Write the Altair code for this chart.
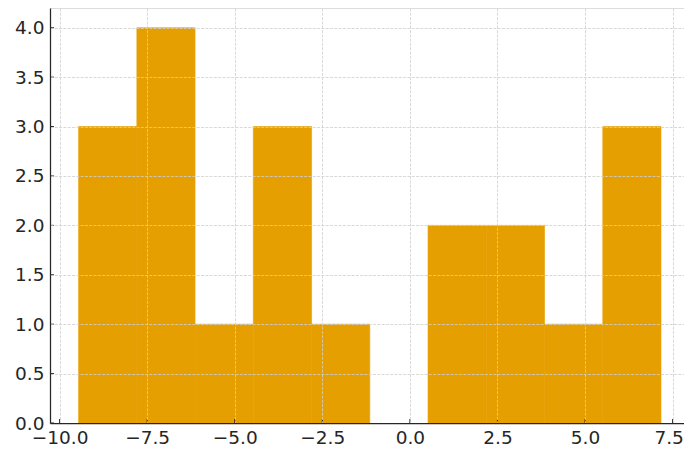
import altair as alt
import pandas as pd

# Histogram
bin_edges = [-9.458, -7.795, -6.133, -4.470, -2.807, -1.145, 0.518, 2.181, 3.843, 5.506, 7.168]
counts = [3, 4, 1, 3, 1, 0, 2, 2, 1, 3]
x_ticks = [-10.0, -7.5, -5.0, -2.5, 0.0, 2.5, 5.0, 7.5]
y_ticks = [0.0, 0.5, 1.0, 1.5, 2.0, 2.5, 3.0, 3.5, 4.0]

X_DOMAIN = [-10.274, 7.825]
Y_DOMAIN = [0, 4.2]
W, H = 634, 415

bars = pd.DataFrame({
    "start": bin_edges[:-1],
    "end": bin_edges[1:],
    "count": counts,
    "base": [0] * len(counts),
})

xs = alt.Scale(domain=X_DOMAIN, nice=False, zero=False)
ys = alt.Scale(domain=Y_DOMAIN, nice=False)

axis_common = dict(
    grid=True,
    gridColor="#cfcfcf",
    gridDash=[3, 1.3],
    gridWidth=0.8,
    domainColor="#262626",
    domainWidth=1.25,
    ticks=False,
    labelFont="DejaVu Sans",
    labelFontSize=18.5,
    labelColor="#262626",
    title=None,
    zindex=1,
    format=".1f",
)

bar_layer = alt.Chart(bars).mark_rect(
    color="#E69F00", stroke="#E69F00", strokeWidth=0.6
).encode(
    x=alt.X(
        "start:Q",
        scale=xs,
        axis=alt.Axis(
            values=x_ticks,
            labelPadding=5,
            labelOffset={"condition": {"test": "datum.value == 7.5", "value": -4}, "value": 0},
            **axis_common,
        ),
    ),
    x2="end:Q",
    y=alt.Y("count:Q", scale=ys, axis=alt.Axis(values=y_ticks, labelPadding=6, **axis_common)),
    y2="base:Q",
    strokeOpacity=alt.condition("datum.count > 0", alt.value(1), alt.value(0)),
)

xt = alt.Chart(pd.DataFrame({"v": x_ticks})).mark_rule(color="#262626", strokeWidth=1).encode(
    x=alt.X("v:Q", scale=xs),
    y=alt.value(H),
    y2=alt.value(H - 4),
)

yt = alt.Chart(pd.DataFrame({"v": y_ticks})).mark_rule(color="#262626", strokeWidth=1).encode(
    y=alt.Y("v:Q", scale=ys),
    x=alt.value(0),
    x2=alt.value(4),
)

chart = alt.layer(bar_layer, xt, yt).properties(
    width=W,
    height=H,
    autosize=alt.AutoSizeParams(type="none"),
    padding={"left": 42, "top": 0, "right": 0, "bottom": 24},
).configure_view(stroke=None).configure(background="white")

chart.save("out.html", embed_options={"renderer": "svg", "actions": False})
